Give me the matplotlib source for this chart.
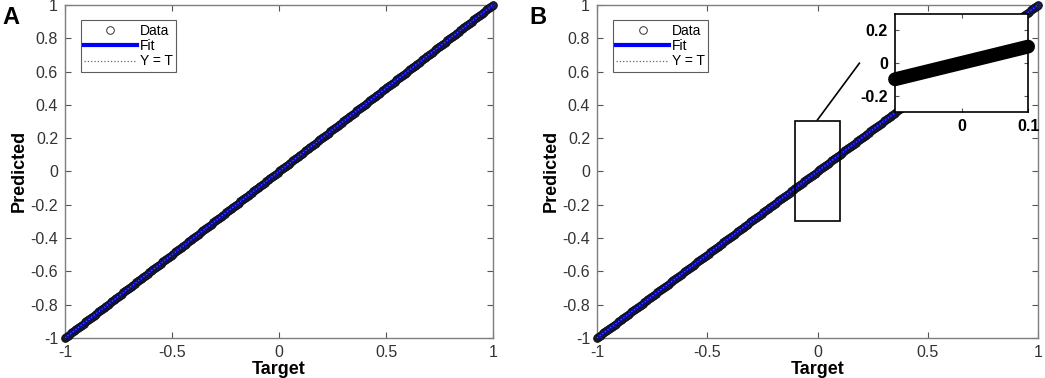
import matplotlib.pyplot as plt
import numpy as np

plt.rcParams['font.family'] = ['Liberation Sans', 'DejaVu Sans']

# Target values sampled densely over [-1, 1]; the network output equals the target
target = np.linspace(-1, 1, 301)
predicted = target.copy()
fit_x = [-1, 1]
fit_y = [-1, 1]

x_ticks = [-1, -0.5, 0, 0.5, 1]
y_ticks = [-1, -0.8, -0.6, -0.4, -0.2, 0, 0.2, 0.4, 0.6, 0.8, 1]
inset_xticks = [0, 0.1]
inset_yticks = [-0.2, 0, 0.2]
zoom_box = (-0.1, 0.1, -0.3, 0.3)

spine_col = '#7f7f7f'


def style_axes(ax):
    ax.tick_params(direction='in', top=True, right=True, length=4, pad=5,
                   labelsize=11.5, color='#555555', labelcolor='#333333')
    for s in ax.spines.values():
        s.set_color(spine_col)
        s.set_linewidth(1.0)


def draw_panel(ax):
    ax.plot(target, predicted, 'o', ms=5.5, mfc='#1a1a66', mec='#111111',
            mew=0.7, label='Data', clip_on=False, zorder=3)
    ax.plot(fit_x, fit_y, color='#0000ff', lw=2.0, alpha=0.8, label='Fit', zorder=4)
    ax.plot(fit_x, fit_y, ':', color='#666666', lw=0.9, label='Y = T', zorder=5)
    ax.set_xlim(-1, 1)
    ax.set_ylim(-1, 1)
    ax.set_xticks(x_ticks)
    ax.set_xticklabels(['-1', '-0.5', '0', '0.5', '1'])
    ax.set_yticks(y_ticks)
    ax.set_yticklabels(['-1', '-0.8', '-0.6', '-0.4', '-0.2', '0',
                        '0.2', '0.4', '0.6', '0.8', '1'])
    ax.set_xlabel('Target', fontsize=13, fontweight='bold', labelpad=1)
    ax.set_ylabel('Predicted', fontsize=13, fontweight='bold', labelpad=2)
    style_axes(ax)
    leg = ax.legend(loc='upper left', fontsize=10, frameon=True, fancybox=False,
                    edgecolor='#333333', borderpad=0.25, labelspacing=0.1,
                    handlelength=3.8, handletextpad=0.2,
                    bbox_to_anchor=(0.02, 0.975))
    leg.get_frame().set_linewidth(0.8)
    leg.legend_handles[0].set_markerfacecolor('none')
    leg.legend_handles[0].set_markeredgecolor('#333333')
    leg.legend_handles[1].set_linewidth(3)
    leg.legend_handles[1].set_alpha(1)


fig = plt.figure(figsize=(10.45, 3.78), dpi=100)
ax1 = fig.add_axes([0.0622, 0.106, 0.4096, 0.881])
ax2 = fig.add_axes([0.5713, 0.106, 0.4220, 0.881])
draw_panel(ax1)
draw_panel(ax2)

fig.text(0.002, 0.985, 'A', fontsize=17, fontweight='bold', va='top')
fig.text(0.507, 0.985, 'B', fontsize=17, fontweight='bold', va='top')

# zoom rectangle and connector on panel B
x0, x1, y0, y1 = zoom_box
ax2.add_patch(plt.Rectangle((x0, y0), x1 - x0, y1 - y0, fill=False,
                            edgecolor='black', lw=1.2, zorder=6))
ax2.plot([0.0, 0.19], [0.31, 0.65], color='black', lw=1.2, zorder=6)

# inset: only the points inside the zoom window
sel = (target >= x0 - 1e-9) & (target <= x1 + 1e-9)
axi = fig.add_axes([0.8565, 0.704, 0.1273, 0.259])
axi.plot(target[sel], predicted[sel], '-', color='black', lw=10,
         solid_capstyle='round', clip_on=False, zorder=3)
axi.set_xlim(x0, x1)
axi.set_ylim(y0, y1)
axi.set_xticks(inset_xticks)
axi.set_xticklabels(['0', '0.1'])
axi.set_yticks(inset_yticks)
axi.set_yticklabels(['-0.2', '0', '0.2'])
axi.tick_params(direction='in', top=True, right=True, length=3, pad=5,
                labelsize=11.5, color='#555555')
for lab in axi.get_xticklabels() + axi.get_yticklabels():
    lab.set_fontweight('bold')
for s in axi.spines.values():
    s.set_color('black')
    s.set_linewidth(1.2)

fig.savefig('out.png', dpi=100)
